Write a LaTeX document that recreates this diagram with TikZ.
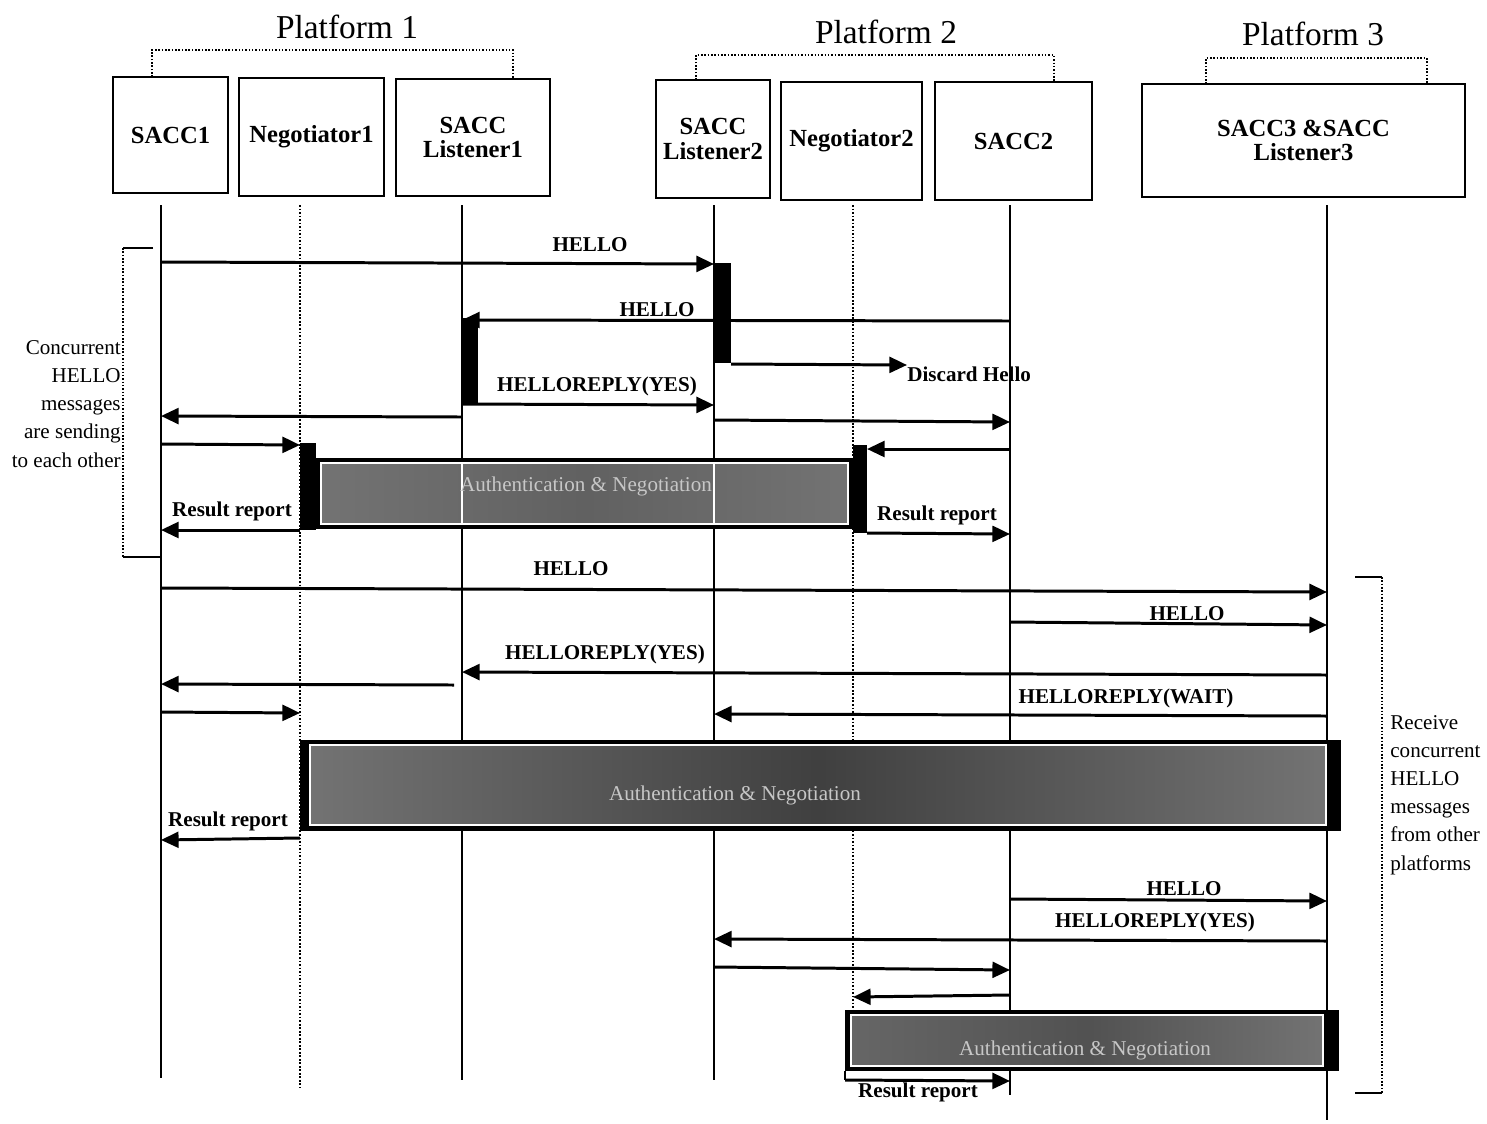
\documentclass[tikz,border=0pt]{standalone}
\usepackage{fontspec}
\setmainfont{Liberation Serif}
\usetikzlibrary{arrows.meta}

\begin{document}
\begin{tikzpicture}[
    x=0.02cm, y=-0.02cm,
    actor/.style={draw, line width=1.6pt, fill=white, align=center, inner sep=0pt,
      font=\fontsize{14}{14}\selectfont\bfseries},
    plat/.style={font=\fontsize{19}{20}\selectfont, inner sep=0pt},
    group/.style={densely dotted, line width=0.9pt},
    life/.style={line width=1.1pt},
    lifedot/.style={densely dotted, line width=1pt},
    msg/.style={line width=1.7pt, -{Triangle[length=10pt,width=9pt]}},
    lbl/.style={font=\fontsize{12}{13}\selectfont\bfseries, inner sep=0pt},
    note/.style={font=\fontsize{12}{16}\selectfont, inner sep=0pt},
    authtxt/.style={font=\fontsize{12}{13}\selectfont, text=black!22, inner sep=0pt},
  ]
  \useasboundingbox (0,0) rectangle (1487,1123);

  % platforms
  \node[plat] (plat1) at (347,27) {Platform 1};
  \node[plat] (plat2) at (886,32) {Platform 2};
  \node[plat] (plat3) at (1313,34) {Platform 3};
  \draw[group] (152,77) -- (152,50) -- (513,50) -- (513,79);
  \draw[group] (696,80) -- (696,55) -- (1054,55) -- (1054,82);
  \draw[group] (1206,84) -- (1206,58) -- (1427,58) -- (1427,84);

  % components
  \node[actor, minimum width=2.30cm, minimum height=2.32cm] (sacc1) at (170.5,135) {SACC1};
  \node[actor, minimum width=2.90cm, minimum height=2.36cm] (neg1) at (311.5,137) {Negotiator1};
  \node[actor, minimum width=3.08cm, minimum height=2.34cm] (lis1) at (473,137.5) {SACC\\Listener1};
  \node[actor, minimum width=2.28cm, minimum height=2.36cm] (lis2) at (713,139) {SACC\\Listener2};
  \node[actor, minimum width=2.82cm, minimum height=2.36cm] (neg2) at (851.5,141) {Negotiator2};
  \node[actor, minimum width=3.14cm, minimum height=2.36cm] (sacc2) at (1013.5,141) {SACC2};
  \node[actor, minimum width=6.46cm, minimum height=2.26cm] (sacc3) at (1303.5,140.5) {SACC3 \&SACC\\Listener3};

  % lifelines
  \coordinate (s1) at (161,205);
  \coordinate (n1) at (300,205);
  \coordinate (l1) at (462,205);
  \coordinate (l2) at (714,205);
  \coordinate (n2) at (853,205);
  \coordinate (s2) at (1010,205);
  \coordinate (s3) at (1327,205);
  \draw[life] (s1) -- (s1 |- 0,1078);
  \draw[lifedot] (n1) -- (n1 |- 0,1088);
  \draw[life] (l1) -- (l1 |- 0,1080);
  \draw[life] (l2) -- (l2 |- 0,1080);
  \draw[lifedot] (n2) -- (n2 |- 0,1010);
  \draw[life] (s2) -- (s2 |- 0,1095);
  \draw[life] (s3) -- (s3 |- 0,1120);

  % concurrent HELLO between platform 1 and 2
  \node[lbl] (hello1) at (590,245) {HELLO};
  \draw[msg] (s1 |- 0,262) -- (l2 |- 0,264);
  \node[lbl] (hello2) at (657,310) {HELLO};
  \draw[msg] (s2 |- 0,321) -- (l1 |- 0,320);
  \node[lbl, anchor=west] (discard) at (907,374) {Discard Hello};
  \draw[msg] (l2 |- 0,364) ++(17,0) -- (discard.west |- 0,365);
  \node[lbl] (reply1) at (597,386) {HELLOREPLY(YES)};
  \draw[msg] (l1 |- 0,404) -- (l2 |- 0,405);
  \draw[msg] (l1 |- 0,417) -- (s1 |- 0,416);
  \draw[msg] (l2 |- 0,420) -- (s2 |- 0,422);
  \draw[msg] (s1 |- 0,444) -- (n1 |- 0,445);
  \draw[msg] (s2 |- 0,449) -- ([xshift=0.28cm]n2 |- 0,449);
  \fill (l2 |- 0,263) rectangle ++(17,100);
  \fill (l1 |- 0,318) rectangle ++(16,86);

  % first authentication
  \fill (n1 |- 0,443) rectangle ++(16,87);
  \fill (n2 |- 0,445) rectangle ++(14,88);
  \fill (316,458) rectangle (853,529);
  \shade[left color=black!55, right color=black!55, middle color=black!62, draw=white, line width=0.7pt]
    (321,463) rectangle (848,524);
  \draw[white, line width=0.8pt] (l1 |- 0,463) -- (l1 |- 0,524);
  \draw[white, line width=0.8pt] (l2 |- 0,463) -- (l2 |- 0,524);
  \node[authtxt] (auth1) at (586,486) {Authentication \& Negotiation};
  \node[lbl] (report1) at (232,511) {Result report};
  \draw[msg] (n1 |- 0,530) -- (s1 |- 0,530);
  \node[lbl] (report2) at (937,515) {Result report};
  \draw[msg] ([xshift=0.28cm]n2 |- 0,533) -- (s2 |- 0,534);

  % left bracket
  \draw[line width=0.9pt] (153,248) -- (123,248);
  \draw[group] (123,248) -- (123,557);
  \draw[line width=0.9pt] (123,557) -- (160,557);
  \node[note, align=right, anchor=east] (concur) at (121,404)
    {Concurrent\\HELLO\\messages\\are sending\\to each other};

  % platform 3 receives concurrent HELLO
  \node[lbl] (hello3) at (571,569) {HELLO};
  \draw[msg] (s1 |- 0,588) -- (s3 |- 0,592);
  \node[lbl] (hello4) at (1187,614) {HELLO};
  \draw[msg] (s2 |- 0,622) -- (s3 |- 0,625);
  \node[lbl] (reply2) at (605,654) {HELLOREPLY(YES)};
  \draw[msg] (s3 |- 0,675) -- (l1 |- 0,672);
  \draw[msg] (l1 |- 0,685) ++(-8,0) -- (s1 |- 0,684);
  \draw[msg] (s1 |- 0,712) -- (n1 |- 0,713);
  \node[lbl] (wait) at (1126,698) {HELLOREPLY(WAIT)};
  \draw[msg] (s3 |- 0,716) -- (l2 |- 0,714);

  % second authentication
  \fill (300,740) rectangle (1341,831);
  \shade[left color=black!55, right color=black!55, middle color=black!75, draw=white, line width=0.7pt]
    (310,745) rectangle (1326,825);
  \node[authtxt] (auth2) at (735,795) {Authentication \& Negotiation};
  \node[lbl] (report3) at (228,821) {Result report};
  \draw[msg] (n1 |- 0,838) -- (s1 |- 0,840);

  % right bracket
  \draw[line width=0.9pt] (1355,577) -- (1382,577);
  \draw[group] (1382,577) -- (1382,1093);
  \draw[line width=0.9pt] (1382,1093) -- (1355,1093);
  \node[note, align=left, anchor=west] (recv) at (1390,795)
    {Receive\\concurrent\\HELLO\\messages\\from other\\platforms};

  % platform 2 and 3
  \node[lbl] (hello5) at (1184,889) {HELLO};
  \draw[msg] (s2 |- 0,899) -- (s3 |- 0,901);
  \node[lbl] (reply3) at (1155,922) {HELLOREPLY(YES)};
  \draw[msg] (s3 |- 0,941) -- (l2 |- 0,939);
  \draw[msg] (l2 |- 0,967) -- (s2 |- 0,970);
  \draw[msg] (s2 |- 0,995) -- (n2 |- 0,997);

  % third authentication
  \fill (845,1010) rectangle (1339,1071);
  \shade[left color=black!60, right color=black!55, middle color=black!68, draw=white, line width=0.7pt]
    (851,1015) rectangle (1323,1066);
  \node[authtxt] (auth3) at (1085,1050) {Authentication \& Negotiation};
  \draw[line width=1pt] (845,1071) -- (845,1080);
  \draw[msg] (845,1080) -- (s2 |- 0,1081);
  \node[lbl] (report4) at (918,1092) {Result report};

\end{tikzpicture}
\end{document}
